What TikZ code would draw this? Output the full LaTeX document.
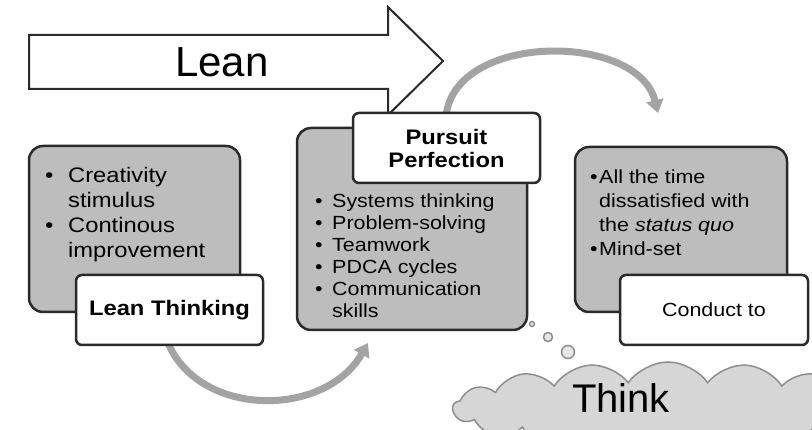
\documentclass[tikz,border=0pt]{standalone}
\usepackage{fontspec}
\setmainfont{Liberation Sans}
\newfontfamily\wfont[FakeStretch=1.13]{Liberation Sans}
\usetikzlibrary{shapes.symbols,arrows.meta}
\definecolor{boxgray}{HTML}{BDBDBD}
\definecolor{edge}{HTML}{2A2A2A}
\definecolor{arcgray}{HTML}{A3A3A3}
\definecolor{cloudfill}{HTML}{D6D6D6}
\definecolor{cloudedge}{HTML}{8E8E8E}
\tikzset{
  graybox/.style={draw=edge,fill=boxgray,line width=2.5pt,rounded corners=14pt},
  whitebox/.style={draw=edge,fill=white,line width=2.5pt,rounded corners=6pt},
  bullettext/.style={anchor=north west,inner sep=0pt,align=left,text=black},
  flowarc/.style={draw=arcgray,line width=7pt,-{Triangle[length=13pt,width=17pt]}},
  bubble/.style={draw=cloudedge,fill=cloudfill!60,line width=1.5pt,circle,inner sep=0pt},
}
\newcommand{\bl}[1]{\makebox[#1][l]{\textbullet}}
\begin{document}
\begin{tikzpicture}[x=1pt,y=-1pt]
\useasboundingbox (0,0) rectangle (812,430);
\begin{scope}
\clip (0,0) rectangle (812,430);
% Lean arrow
\draw[draw=edge,fill=white,line width=2pt,line join=miter]
  (29,35) -- (388,35) -- (388,7) -- (443,61) -- (388,115) -- (388,89) -- (29,89) -- cycle;
\node (lean) at (222,62) {\fontsize{42}{42}\selectfont Lean};
% flow arcs
\coordinate (a1s) at (168,343);
\coordinate (a1e) at (368,343);
\coordinate (a2s) at (446,116);
\coordinate (a2e) at (658,113);
\draw[flowarc] (a1s) .. controls (200,418) and (325,418) .. (a1e);
\draw[flowarc] (a2s) .. controls (455,32) and (638,32) .. (a2e);
% box 1
\node[graybox,minimum width=211pt,minimum height=166pt] (b1) at (134.5,229) {};
\node[bullettext,font=\wfont\fontsize{21}{25}\selectfont] (t1) at (45,167)
 {\bl{23pt}Creativity\\\hspace*{23pt}stimulus\\\bl{23pt}Continous\\\hspace*{23pt}improvement};
\node[whitebox,minimum width=187pt,minimum height=70pt,font=\wfont\fontsize{21}{25}\selectfont\bfseries] (lt) at (169.5,310)
 {Lean Thinking};
% box 2
\node[graybox,minimum width=230pt,minimum height=202pt] (b2) at (412,229) {};
\node[whitebox,minimum width=187pt,minimum height=70pt,align=center,font=\wfont\fontsize{21}{23}\selectfont\bfseries] (pp) at (446.5,148)
 {Pursuit\\Perfection};
\node[bullettext,font=\wfont\fontsize{19}{22}\selectfont] (t2) at (315,194)
 {\bl{17pt}Systems thinking\\\bl{17pt}Problem-solving\\\bl{17pt}Teamwork\\\bl{17pt}PDCA cycles\\\bl{17pt}Communication\\\hspace*{17pt}skills};
% box 3
\node[graybox,minimum width=212pt,minimum height=165pt] (b3) at (681,229.5) {};
\node[bullettext,font=\wfont\fontsize{19}{24}\selectfont] (t3) at (590,170)
 {\bl{9pt}All the time\\\hspace*{9pt}dissatisfied with\\\hspace*{9pt}the \textit{status quo}\\\bl{9pt}Mind-set};
\node[whitebox,minimum width=188pt,minimum height=70pt,font=\wfont\fontsize{19}{24}\selectfont] (ct) at (714,310)
 {Conduct to};
% thought bubbles and cloud
\node[bubble,minimum size=5pt] (c1) at (532,324) {};
\node[bubble,minimum size=9pt] (c2) at (548,337) {};
\node[bubble,minimum size=13pt] (c3) at (568,352) {};
\node[cloud,cloud puffs=17,cloud puff arc=110,cloud ignores aspect,draw=cloudedge,fill=cloudfill,line width=1.5pt,minimum width=430pt,minimum height=92pt] (cloud) at (668,408) {};
\node[anchor=base] (think) at (621,413) {\fontsize{40}{40}\selectfont Think};
\end{scope}
\end{tikzpicture}
\end{document}
